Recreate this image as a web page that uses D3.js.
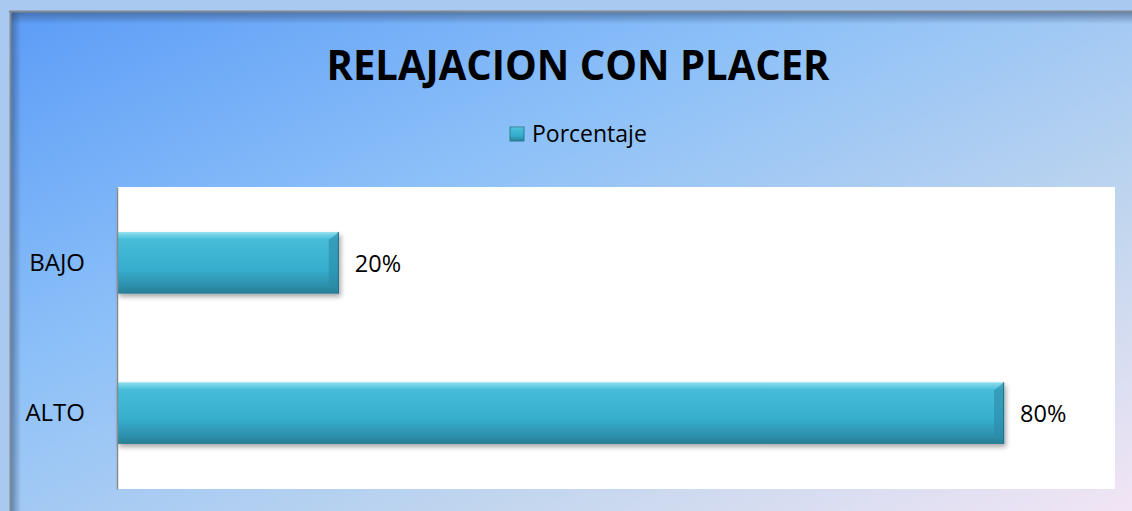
<!DOCTYPE html>
<html>
<head>
<meta charset="utf-8">
<script src="https://cdn.jsdelivr.net/npm/d3@7"></script>
<style>
  body { margin: 0; background: #a9c9f1; }
  svg { display: block; }
  text { font-family: "Open Sans", "Noto Sans", sans-serif; fill: #000; }
</style>
</head>
<body>
<div id="chart"></div>
<script>
const categories = ['BAJO', 'ALTO'];
const values = [0.20, 0.80];
const valueLabels = ['20%', '80%'];
const seriesName = 'Porcentaje';
const title = 'RELAJACION CON PLACER';

const width = 1132, height = 511;
const plot = { left: 117, top: 187, right: 1115, bottom: 489 };

const svg = d3.select('#chart').append('svg')
  .attr('width', width)
  .attr('height', height);

const defs = svg.append('defs');

const bg = defs.append('linearGradient')
  .attr('id', 'bg')
  .attr('x1', '0%').attr('y1', '0%')
  .attr('x2', '100%').attr('y2', '100%');
bg.append('stop').attr('offset', '0%').attr('stop-color', '#5c9cf7');
bg.append('stop').attr('offset', '35%').attr('stop-color', '#8cc0f8');
bg.append('stop').attr('offset', '70%').attr('stop-color', '#c2d6ee');
bg.append('stop').attr('offset', '100%').attr('stop-color', '#f4e6f5');

// bar body gradient (vertical)
const barGrad = defs.append('linearGradient')
  .attr('id', 'barGrad')
  .attr('x1', 0).attr('y1', 0).attr('x2', 0).attr('y2', 1);
barGrad.append('stop').attr('offset', '0%').attr('stop-color', '#8fe0f0');
barGrad.append('stop').attr('offset', '12%').attr('stop-color', '#46bcd8');
barGrad.append('stop').attr('offset', '60%').attr('stop-color', '#36aecd');
barGrad.append('stop').attr('offset', '88%').attr('stop-color', '#2d8fac');
barGrad.append('stop').attr('offset', '100%').attr('stop-color', '#2a7b93');

const shadow = defs.append('filter').attr('id', 'shadow')
  .attr('x', '-5%').attr('y', '-20%').attr('width', '110%').attr('height', '150%');
shadow.append('feDropShadow')
  .attr('dx', 2).attr('dy', 3).attr('stdDeviation', 2.5)
  .attr('flood-color', '#000').attr('flood-opacity', 0.35);

// frame
svg.append('rect')
  .attr('x', 10).attr('y', 11)
  .attr('width', width).attr('height', height)
  .attr('fill', 'url(#bg)');

// inner shadow along top/left edges
const edge = defs.append('linearGradient').attr('id', 'edgeTop')
  .attr('x1', 0).attr('y1', 0).attr('x2', 0).attr('y2', 1);
edge.append('stop').attr('offset', '0%').attr('stop-color', '#304a70').attr('stop-opacity', 0.55);
edge.append('stop').attr('offset', '100%').attr('stop-color', '#304a70').attr('stop-opacity', 0);
const edgeL = defs.append('linearGradient').attr('id', 'edgeLeft')
  .attr('x1', 0).attr('y1', 0).attr('x2', 1).attr('y2', 0);
edgeL.append('stop').attr('offset', '0%').attr('stop-color', '#304a70').attr('stop-opacity', 0.55);
edgeL.append('stop').attr('offset', '100%').attr('stop-color', '#304a70').attr('stop-opacity', 0);
svg.append('rect').attr('x', 10).attr('y', 12).attr('width', width).attr('height', 12).attr('fill', 'url(#edgeTop)');
svg.append('rect').attr('x', 11).attr('y', 11).attr('width', 10).attr('height', height).attr('fill', 'url(#edgeLeft)');

svg.append('line').attr('x1', 9).attr('x2', width).attr('y1', 11.5).attr('y2', 11.5)
  .attr('stroke', '#7f8a94').attr('stroke-width', 2);
svg.append('line').attr('x1', 10.5).attr('x2', 10.5).attr('y1', 11).attr('y2', height)
  .attr('stroke', '#7f8a94').attr('stroke-width', 2);

// title
svg.append('text')
  .attr('x', 578).attr('y', 80)
  .attr('text-anchor', 'middle')
  .attr('font-size', 42)
  .attr('font-weight', 'bold')
  .attr('textLength', 503)
  .attr('lengthAdjust', 'spacingAndGlyphs')
  .text(title);

// legend
const legend = svg.append('g').attr('transform', 'translate(510,127)');
legend.append('rect').attr('width', 14).attr('height', 14)
  .attr('fill', 'url(#barGrad)').attr('stroke', '#2a7b93').attr('stroke-width', 1);
legend.append('text').attr('x', 22).attr('y', 15).attr('font-size', 23).text(seriesName);

// plot area
svg.append('rect')
  .attr('x', plot.left).attr('y', plot.top)
  .attr('width', plot.right - plot.left).attr('height', plot.bottom - plot.top)
  .attr('fill', '#fff');

const x = d3.scaleLinear().domain([0, 0.9]).range([plot.left, plot.right]);
const y = d3.scaleBand().domain(categories).range([plot.top, plot.bottom]).paddingInner(0.59).paddingOuter(0.3);

const data = categories.map((c, i) => ({ cat: c, value: values[i], label: valueLabels[i] }));

const bars = svg.append('g').selectAll('g').data(data).join('g');

bars.append('rect')
  .attr('x', x(0)).attr('y', d => y(d.cat))
  .attr('width', d => x(d.value) - x(0)).attr('height', y.bandwidth())
  .attr('fill', 'url(#barGrad)')
  .attr('filter', 'url(#shadow)');

// right bevel
bars.append('path')
  .attr('d', d => {
    const x1 = x(d.value), y0 = y(d.cat), h = y.bandwidth(), b = 10;
    return `M${x1},${y0} L${x1},${y0 + h} L${x1 - b},${y0 + h - 8} L${x1 - b},${y0 + 8} Z`;
  })
  .attr('fill', '#2a8aa6').attr('opacity', 0.6);
bars.append('rect')
  .attr('x', d => x(d.value) - 1).attr('y', d => y(d.cat))
  .attr('width', 1).attr('height', y.bandwidth())
  .attr('fill', '#246e86');

// value labels
bars.append('text')
  .attr('x', d => x(d.value) + 16)
  .attr('y', d => y(d.cat) + y.bandwidth() / 2 + 9)
  .attr('font-size', 23.5)
  .text(d => d.label);

// y axis
const yAxis = svg.append('g')
  .attr('transform', `translate(${plot.left},0)`)
  .call(d3.axisLeft(y).tickSize(0).tickPadding(32));
yAxis.select('.domain').attr('stroke', '#8a8a8a').attr('stroke-width', 1.5);
yAxis.selectAll('text')
  .attr('font-size', 24)
  .attr('font-family', '"Open Sans", "Noto Sans", sans-serif')
  .attr('fill', '#000');
</script>
</body>
</html>
